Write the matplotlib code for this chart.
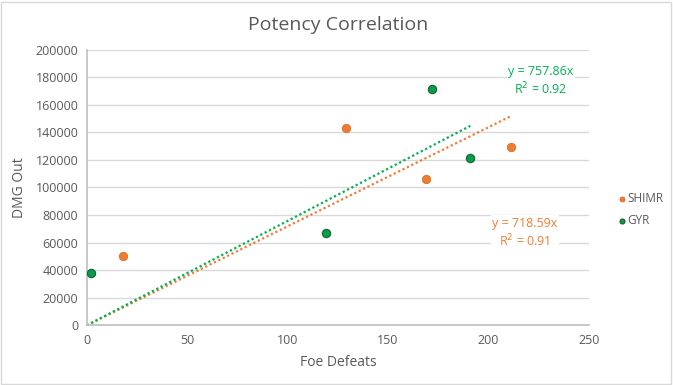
import numpy as np
import matplotlib
matplotlib.use("Agg")
from matplotlib import pyplot as plt

# data
shimr_x = [18, 129, 169, 211]
shimr_y = [50000, 143200, 106200, 129200]
gyr_x = [2, 119, 172, 191]
gyr_y = [37700, 66700, 171200, 121400]

shimr_slope = 718.59
gyr_slope = 757.86
shimr_r2 = 0.91
gyr_r2 = 0.92

orange = "#ED7D31"
green_pt = "#00A04A"
green_line = "#00B050"
grey = "#595959"

plt.rcParams['font.family'] = ['Open Sans', 'DejaVu Sans']

fig = plt.figure(figsize=(6.73, 3.85), dpi=100)
ax = fig.add_axes([0.129, 0.155, 0.746, 0.716])

ax.set_xlim(0, 250)
ax.set_ylim(0, 200000)
ax.set_xticks(np.arange(0, 251, 50))
ax.set_yticks(np.arange(0, 200001, 20000))
ax.grid(axis="y", color="#d9d9d9", linewidth=1)
ax.set_axisbelow(True)
for s in ["top", "right"]:
    ax.spines[s].set_visible(False)
for s in ["left", "bottom"]:
    ax.spines[s].set_color("#bfbfbf")
    ax.spines[s].set_linewidth(1.2)
ax.tick_params(colors=grey, labelsize=9, length=0, pad=6)

# trendlines through origin
xs = np.array([0, max(shimr_x)])
ax.plot(xs, shimr_slope * xs, linestyle=(0, (1, 1.2)), color=orange, linewidth=1.6)
xg = np.array([0, max(gyr_x)])
ax.plot(xg, gyr_slope * xg, linestyle=(0, (1, 1.2)), color=green_line, linewidth=1.6)

ax.scatter(shimr_x, shimr_y, s=36, color=orange, edgecolor="#e06a20", linewidth=0.6, zorder=3, label="SHIMR")
ax.scatter(gyr_x, gyr_y, s=36, color=green_pt, edgecolor="#1f5e2e", linewidth=0.8, zorder=3, label="GYR")

ax.text(226, 177000, f"y = {gyr_slope}x\nR$^2$ = {gyr_r2}", color=green_line, fontsize=9,
        ha="center", va="center", linespacing=1.2,
        bbox=dict(facecolor="white", edgecolor="none", pad=1))
ax.text(218, 67000, f"y = {shimr_slope}x\nR$^2$ = {shimr_r2}", color=orange, fontsize=9,
        ha="center", va="center", linespacing=1.2,
        bbox=dict(facecolor="white", edgecolor="none", pad=1))

ax.set_title("Potency Correlation", color=grey, fontsize=14, pad=14)
ax.set_xlabel("Foe Defeats", color=grey, fontsize=10, labelpad=6)
ax.set_ylabel("DMG Out", color=grey, fontsize=10, labelpad=6)

ax.legend(loc="center left", bbox_to_anchor=(1.055, 0.42), frameon=False, fontsize=8.5,
          labelcolor=grey, handletextpad=0.05, handlelength=0.9, markerscale=0.6,
          borderaxespad=0, borderpad=0, labelspacing=0.8)

fig.patches.append(plt.Rectangle((0.002, 0.003), 0.995, 0.993, transform=fig.transFigure,
                                 fill=False, edgecolor="#d9d9d9", linewidth=1))

fig.savefig("out.png", dpi=100)
